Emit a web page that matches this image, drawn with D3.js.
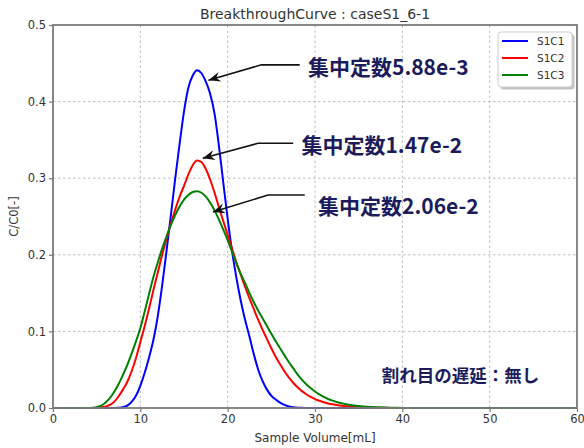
<!DOCTYPE html>
<html>
<head>
<meta charset="utf-8">
<script src="https://cdn.jsdelivr.net/npm/d3@7/dist/d3.min.js"></script>
<style>
  body { margin: 0; background: #fff; }
  svg { display: block; }
</style>
</head>
<body>
<svg id="chart" width="584" height="448"></svg>
<script>
// Sample volume [mL] at which C/C0 was evaluated
const volume = [
  0, 1, 2, 3,
  4, 4.5, 5, 5.5, 6, 6.5, 7, 7.5, 8, 8.5, 9, 9.5,
  10, 10.5, 11, 11.5, 12, 12.5, 13, 13.5, 14, 14.5, 15, 15.5,
  16, 16.5, 17, 17.5, 18, 18.5, 19, 19.5, 20, 20.5, 21, 21.5,
  22, 22.5, 23, 23.5, 24, 24.5, 25, 25.5, 26, 26.5, 27, 27.5,
  28, 28.5, 29, 29.5, 30, 30.5, 31, 31.5, 32,
  33, 34, 35, 36, 37, 38, 39, 40,
  45, 50, 55, 60
];

// C/C0 for each case, one value per volume entry
const s1c1 = [
  0, 0, 0, 0,
  0, 0, 0, 0, 0, 0, 0.0001, 0.0003, 0.0009, 0.003, 0.008, 0.016,
  0.029, 0.046, 0.066, 0.089, 0.12, 0.16, 0.205, 0.252, 0.3, 0.345, 0.387, 0.418,
  0.434, 0.441, 0.437, 0.426, 0.41, 0.384, 0.342, 0.294, 0.247, 0.205, 0.17, 0.14,
  0.115, 0.093, 0.07, 0.05, 0.035, 0.024, 0.016, 0.011, 0.007, 0.004, 0.002, 0.001,
  0.0004, 0.0002, 0.0001, 0, 0, 0, 0, 0, 0,
  0, 0, 0, 0, 0, 0, 0, 0,
  0, 0, 0, 0
];
const s1c2 = [
  0, 0, 0, 0,
  0, 0.0001, 0.0003, 0.0008, 0.0018, 0.004, 0.008, 0.015, 0.024, 0.034, 0.048, 0.065,
  0.086, 0.107, 0.13, 0.154, 0.177, 0.2, 0.221, 0.241, 0.259, 0.276, 0.29, 0.305,
  0.317, 0.323, 0.321, 0.312, 0.298, 0.281, 0.262, 0.244, 0.226, 0.208, 0.19, 0.174,
  0.158, 0.143, 0.129, 0.115, 0.102, 0.09, 0.078, 0.067, 0.057, 0.048, 0.04, 0.033,
  0.027, 0.022, 0.018, 0.0145, 0.0117, 0.0094, 0.0075, 0.006, 0.0048,
  0.003, 0.0018, 0.0011, 0.0006, 0.0003, 0.0002, 0.0001, 0,
  0, 0, 0, 0
];
const s1c3 = [
  0, 0, 0, 0,
  0.0001, 0.0004, 0.001, 0.003, 0.007, 0.013, 0.021, 0.031, 0.043, 0.056, 0.071, 0.087,
  0.104, 0.126, 0.149, 0.171, 0.19, 0.208, 0.224, 0.239, 0.252, 0.263, 0.272, 0.278,
  0.282, 0.283, 0.281, 0.276, 0.268, 0.258, 0.246, 0.233, 0.219, 0.204, 0.189, 0.175,
  0.163, 0.15, 0.138, 0.127, 0.117, 0.107, 0.097, 0.087, 0.078, 0.069, 0.06, 0.052,
  0.044, 0.037, 0.031, 0.026, 0.0215, 0.0177, 0.0145, 0.0118, 0.0096,
  0.0062, 0.004, 0.0025, 0.0015, 0.0009, 0.0005, 0.0003, 0.0001,
  0, 0, 0, 0
];

const seriesNames = ["S1C1", "S1C2", "S1C3"];
const seriesValues = [s1c1, s1c2, s1c3];
const seriesColors = ["#0000ff", "#ff0000", "#008000"];

const xTicks = [0, 10, 20, 30, 40, 50, 60];
const yTicks = [0, 0.1, 0.2, 0.3, 0.4, 0.5];
const xTickLabels = ["0", "10", "20", "30", "40", "50", "60"];
const yTickLabels = ["0.0", "0.1", "0.2", "0.3", "0.4", "0.5"];

const titleText = "BreakthroughCurve : caseS1_6-1";
const xLabelText = "Sample Volume[mL]";
const yLabelText = "C/C0[-]";

// Callout labels: text and the curve point each arrow points to
const calloutTexts = ["集中定数5.88e-3", "集中定数1.47e-2", "集中定数2.06e-2"];
const calloutTips = [[17.8, 0.428], [17.15, 0.326], [18.3, 0.256]];
const noteText = "割れ目の遅延：無し";

// ---- layout ----
const margin = { left: 53, right: 7, top: 25, bottom: 40 };
const W = 584, H = 448;
const svg = d3.select("#chart");
const x = d3.scaleLinear().domain([0, 60]).range([margin.left, W - margin.right]);
const y = d3.scaleLinear().domain([0, 0.5]).range([H - margin.bottom, margin.top]);

const baseFont = "'DejaVu Sans', sans-serif";
const jpFont = "'Noto Sans CJK JP', 'Noto Sans CJK SC', sans-serif";
const axisGrey = "#7a7a7a";
const textGrey = "#333";
const navy = "#1c1c5c";

// grid
const grid = svg.append("g");
grid.selectAll("line.gx").data(xTicks.slice(1, -1)).join("line")
  .attr("x1", d => x(d)).attr("x2", d => x(d))
  .attr("y1", y(0)).attr("y2", y(0.5))
  .attr("stroke", "#bdbdbd").attr("stroke-width", 1).attr("stroke-dasharray", "2.5,2.5");
grid.selectAll("line.gy").data(yTicks.slice(1, -1)).join("line")
  .attr("x1", x(0)).attr("x2", x(60))
  .attr("y1", d => y(d)).attr("y2", d => y(d))
  .attr("stroke", "#bdbdbd").attr("stroke-width", 1).attr("stroke-dasharray", "2.5,2.5");

// curves
const line = d3.line()
  .x((d, i) => x(volume[i]))
  .y(d => y(d))
  .curve(d3.curveMonotoneX);
const plot = svg.append("g");
seriesValues.forEach((vals, k) => {
  plot.append("path")
    .datum(vals)
    .attr("d", line)
    .attr("fill", "none")
    .attr("stroke", seriesColors[k])
    .attr("stroke-width", 2);
});

// axes
const xAxis = d3.axisBottom(x).tickValues(xTicks)
  .tickFormat((d, i) => xTickLabels[i]).tickSize(4).tickPadding(3);
const yAxis = d3.axisLeft(y).tickValues(yTicks)
  .tickFormat((d, i) => yTickLabels[i]).tickSize(4).tickPadding(3);

const gx = svg.append("g").attr("transform", `translate(0,${y(0)})`).call(xAxis);
const gy = svg.append("g").attr("transform", `translate(${x(0)},0)`).call(yAxis);
[gx, gy].forEach(g => {
  g.select(".domain").remove();
  g.selectAll(".tick line").attr("stroke", axisGrey).attr("stroke-width", 1.2);
  g.selectAll(".tick text").attr("fill", textGrey)
    .style("font-family", baseFont).style("font-size", "11.5px");
});

// frame
svg.append("rect")
  .attr("x", x(0)).attr("y", y(0.5))
  .attr("width", x(60) - x(0)).attr("height", y(0) - y(0.5))
  .attr("fill", "none").attr("stroke", axisGrey).attr("stroke-width", 1.8);

// title and axis labels
svg.append("text").attr("x", (x(0) + x(60)) / 2).attr("y", 19)
  .attr("text-anchor", "middle").attr("fill", textGrey)
  .style("font-family", baseFont).style("font-size", "14px").text(titleText);
svg.append("text").attr("x", (x(0) + x(60)) / 2).attr("y", 442)
  .attr("text-anchor", "middle").attr("fill", textGrey)
  .style("font-family", baseFont).style("font-size", "12px").text(xLabelText);
svg.append("text")
  .attr("transform", `translate(14,${(y(0) + y(0.5)) / 2}) rotate(-90)`)
  .attr("text-anchor", "middle").attr("dominant-baseline", "central").attr("fill", textGrey)
  .style("font-family", baseFont).style("font-size", "11.5px").text(yLabelText);

// legend
const lg = svg.append("g").attr("transform", "translate(498,32)");
lg.append("rect").attr("x", 2.5).attr("y", 2.5).attr("width", 74).attr("height", 55)
  .attr("rx", 3).attr("fill", "#c4c4c4");
lg.append("rect").attr("x", 0).attr("y", 0).attr("width", 74).attr("height", 55)
  .attr("rx", 3).attr("fill", "#fff").attr("stroke", "#cccccc").attr("stroke-width", 1);
seriesNames.forEach((name, k) => {
  const yy = 9 + k * 17;
  lg.append("line").attr("x1", 4).attr("x2", 30).attr("y1", yy).attr("y2", yy)
    .attr("stroke", seriesColors[k]).attr("stroke-width", 2);
  lg.append("text").attr("x", 39).attr("y", yy).attr("dy", "0.35em")
    .attr("fill", textGrey).style("font-family", baseFont).style("font-size", "10.5px")
    .text(name);
});

// callouts with arrows
const defs = svg.append("defs");
defs.append("marker").attr("id", "head")
  .attr("viewBox", "-12 -6 14 12").attr("markerWidth", 14).attr("markerHeight", 12)
  .attr("markerUnits", "userSpaceOnUse").attr("refX", 0).attr("refY", 0)
  .attr("orient", "auto")
  .append("path").attr("d", "M0,0 L-12,-5 L-8,0 L-12,5 Z").attr("fill", "#111");

const calloutElbows = [[[28.25, 0.448], [23.86, 0.448]],
                       [[27.5, 0.3456], [23.47, 0.3456]],
                       [[28.83, 0.278], [24.62, 0.278]]];
const calloutAnchors = [[29.2, 0.4465], [28.45, 0.3446], [30.35, 0.265]];

const callouts = svg.append("g");
calloutTexts.forEach((t, k) => {
  const pts = [calloutElbows[k][0], calloutElbows[k][1], calloutTips[k]];
  callouts.append("path")
    .attr("d", d3.line().x(p => x(p[0])).y(p => y(p[1]))(pts))
    .attr("fill", "none").attr("stroke", "#111").attr("stroke-width", 1.6)
    .attr("marker-end", "url(#head)");
  callouts.append("text")
    .attr("x", x(calloutAnchors[k][0])).attr("y", y(calloutAnchors[k][1]))
    .attr("dominant-baseline", "central").attr("fill", navy)
    .style("font-family", jpFont).style("font-weight", "700").style("font-size", "21px")
    .text(t);
});

svg.append("text")
  .attr("x", x(37.65)).attr("y", y(0.0431))
  .attr("dominant-baseline", "central").attr("fill", navy)
  .style("font-family", jpFont).style("font-weight", "700").style("font-size", "17.5px")
  .text(noteText);
</script>
</body>
</html>
